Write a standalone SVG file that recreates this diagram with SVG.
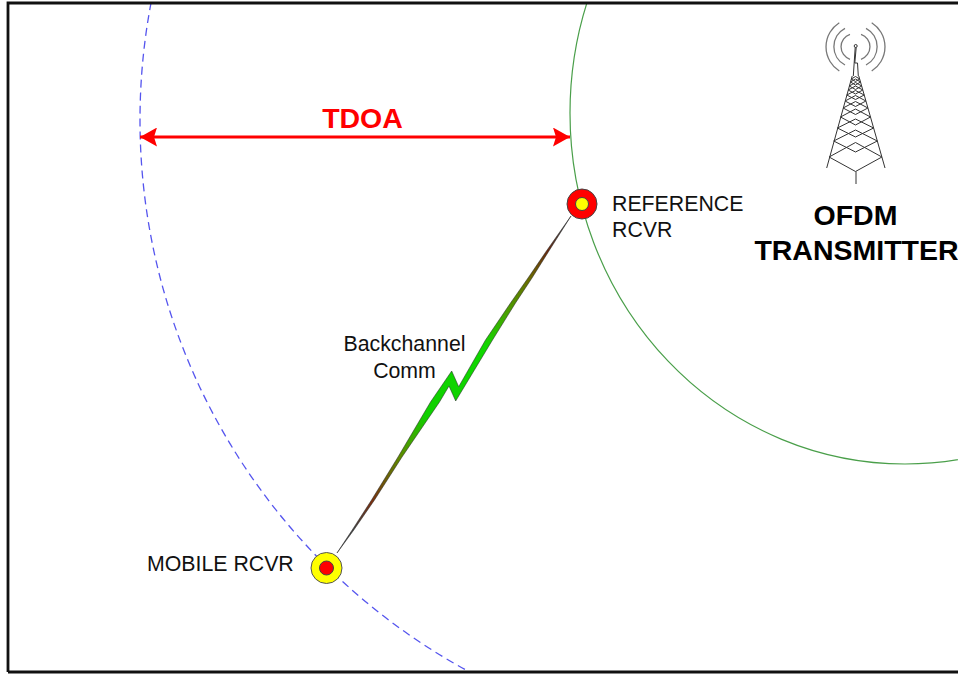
<svg xmlns="http://www.w3.org/2000/svg" width="958" height="675" viewBox="0 0 958 675">
<defs>
<style>
text{font-family:"Liberation Sans",Arial,sans-serif;fill:#111}
.lbl{font-size:21.300px}
.big{font-size:28.500px;font-weight:bold;fill:#000}
.t{fill:none;stroke:#333;stroke-width:1}
.w{fill:none;stroke:#777;stroke-width:1.300}
</style>
<marker id="ah" viewBox="0 0 17 19" refX="17" refY="9.500" markerWidth="17" markerHeight="19" markerUnits="userSpaceOnUse" orient="auto-start-reverse"><path d="M0 0L17 9.500L0 19L3 9.500Z" fill="#f00"/></marker>
<linearGradient id="bolt" gradientUnits="userSpaceOnUse" x1="337" y1="553" x2="571" y2="217">
<stop offset="0" stop-color="#444"/>
<stop offset=".07" stop-color="#444"/>
<stop offset=".15" stop-color="#7a2f10"/>
<stop offset=".28" stop-color="#5f8a00"/>
<stop offset=".4" stop-color="#10d000"/>
<stop offset=".62" stop-color="#10d800"/>
<stop offset=".72" stop-color="#4aa000"/>
<stop offset=".82" stop-color="#6a6a00"/>
<stop offset=".9" stop-color="#6a2a10"/>
<stop offset=".97" stop-color="#444"/>
</linearGradient>
</defs>
<rect width="958" height="675" fill="#fff"/>
<g id="connectors">
<clipPath id="fr"><rect x="8" y="3" width="950" height="669"/></clipPath>
<g clip-path="url(#fr)">
<circle id="mobile-range" cx="767" cy="120" r="627" fill="none" stroke="#5555ee" stroke-width="1.300" stroke-dasharray="8 5"/>
<ellipse id="reference-range" cx="905" cy="113" rx="335" ry="351" fill="none" stroke="#4a9f4a" stroke-width="1.200"/>
</g>
<line id="tdoa-arrow" x1="140" y1="137" x2="570" y2="137" stroke="#f00" stroke-width="3" marker-start="url(#ah)" marker-end="url(#ah)"/>
<polygon id="backchannel" points="571,216 545.700,252 528,278 510.500,303 485.500,340 458.700,386.700 451.700,371 430.500,402 398,457 371.500,500 352.200,530 337,553 353.800,530 374.500,500 402,457 439.500,402 449,386 455.700,401 492.500,340 515.500,303 532,278 548.300,252" fill="url(#bolt)" stroke="#222" stroke-opacity=".65" stroke-width=".8"/>
</g>
<g id="frame"><path d="M8 672V3H958M8 672H958" fill="none" stroke="#111" stroke-width="2.800"/></g>
<g id="reference-rcvr">
<circle cx="582" cy="204" r="15" fill="#f00" stroke="#444"/>
<circle cx="582" cy="204" r="6.500" fill="#ff0" stroke="#444"/>
<text class="lbl" x="612" y="211">REFERENCE</text>
<text class="lbl" x="612" y="237">RCVR</text>
</g>
<g id="mobile-rcvr">
<circle cx="326.500" cy="568" r="15.500" fill="#ff0" stroke="#555"/>
<circle cx="326.500" cy="568" r="7" fill="#f00" stroke="#444"/>
<text class="lbl" x="147" y="571">MOBILE RCVR</text>
</g>
<g id="backchannel-label">
<text class="lbl" x="404.500" y="351" text-anchor="middle">Backchannel</text>
<text class="lbl" x="404.500" y="378" text-anchor="middle">Comm</text>
</g>
<g id="tdoa-label"><text x="362.500" y="128" text-anchor="middle" font-size="28.500" font-weight="bold" style="fill:#f00">TDOA</text></g>
<g id="ofdm-transmitter">
<path class="w" d="M839.300 22.700A28.600 28.600 0 0 0 839.300 71M871.700 22.700A28.600 28.600 0 0 1 871.700 71M845 28.300A20.700 20.700 0 0 0 845 65M866 28.300A20.700 20.700 0 0 1 866 65M850 34.300A13.200 13.200 0 0 0 850 59.300M861 34.300A13.200 13.200 0 0 1 861 59.300"/>
<circle cx="855.700" cy="46" r="1.500" class="t"/>
<path class="t" d="M855.200 47.500L853.300 76M856.200 47.500L854.800 63H857.500L858.300 76M852.200 76L826.700 168M858.800 76L885 168M856 171.500V184"/>
<path class="t" d="M829.100 157L855.500 171.500L881.900 157L855.500 142.500ZM833.700 141L855.500 152L877.300 141L855.500 130ZM837.400 128L855.500 137L873.600 128L855.500 119ZM840.500 117L855.500 125L870.500 117L855.500 109ZM843.100 108L855.500 114.500L867.900 108L855.500 101.500ZM845.100 101L855.500 106.500L865.900 101L855.500 95.500ZM846.800 95L855.500 99.500L864.200 95L855.500 90.500ZM848.200 90L855.500 94L862.800 90L855.500 86ZM849.300 86L855.500 89.500L861.700 86L855.500 82.500ZM850.500 82L855.500 85L860.500 82L855.500 79ZM851.300 79L855.500 81.500L859.700 79L855.500 76.500Z"/>
<text class="big" x="855.500" y="225" text-anchor="middle">OFDM</text>
<text class="big" x="856.500" y="260" text-anchor="middle">TRANSMITTER</text>
</g>
</svg>
